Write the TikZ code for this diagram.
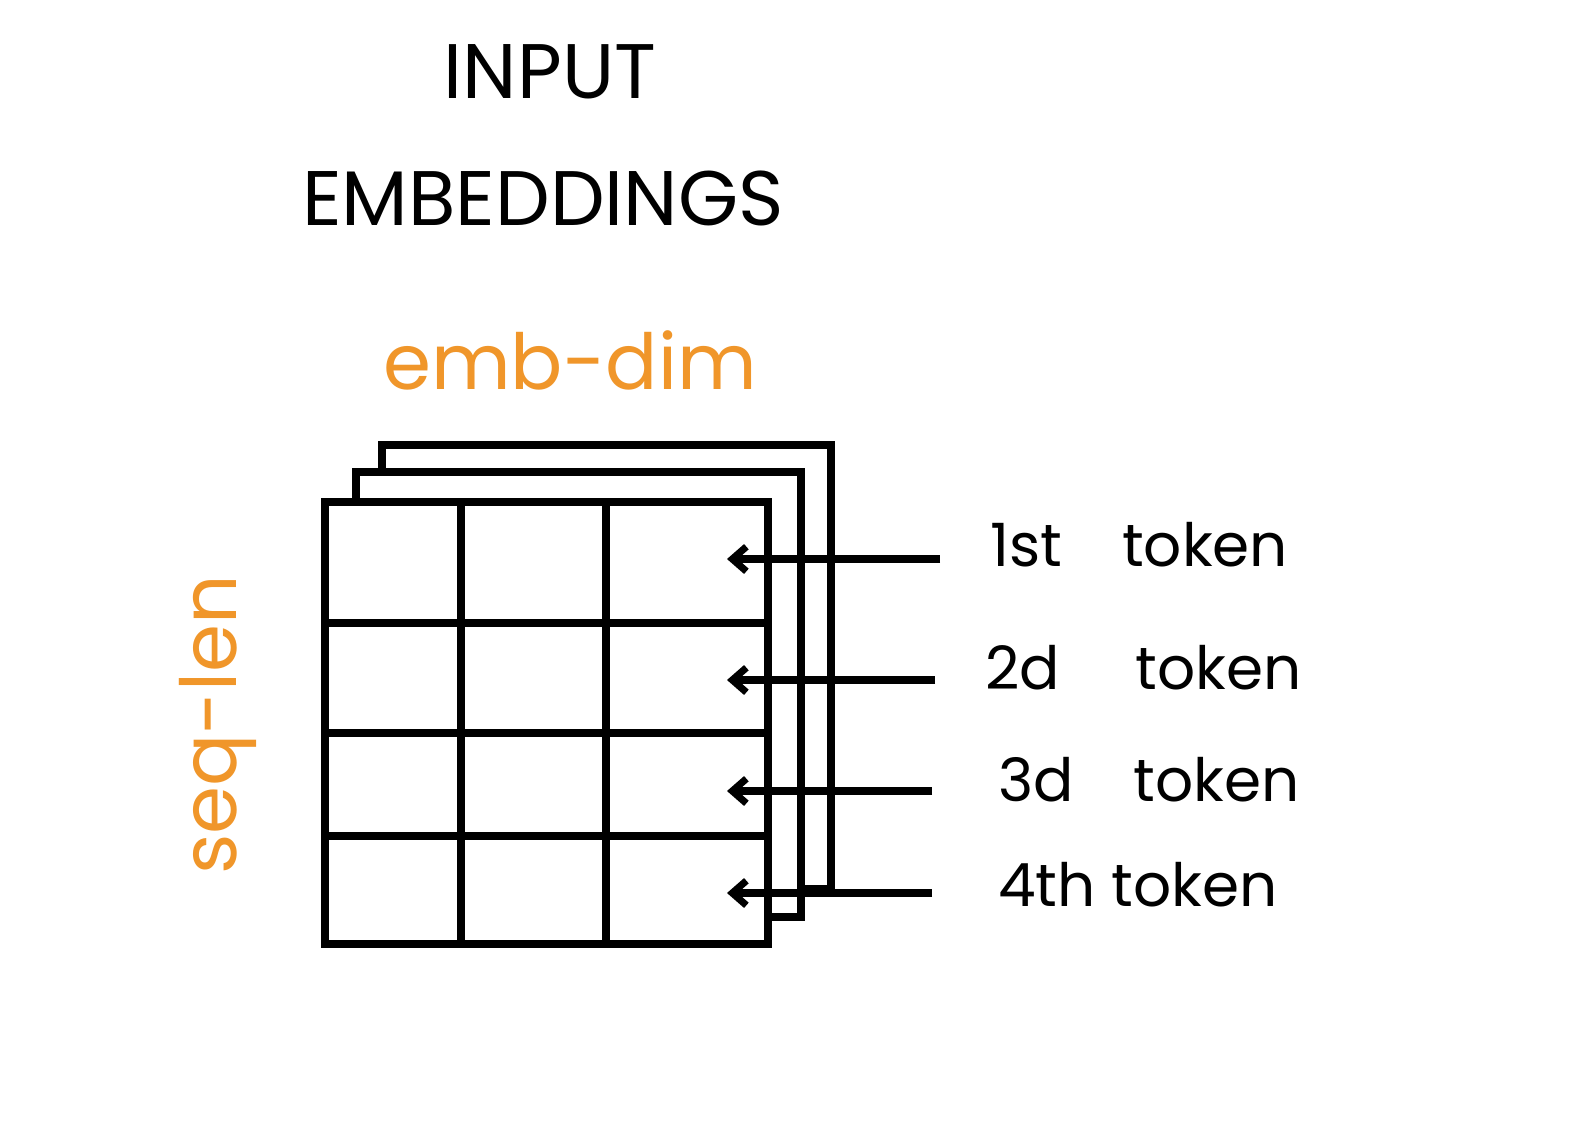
\documentclass[tikz,border=0pt]{standalone}
\usepackage{fontspec}
\setmainfont{Poppins}
\usetikzlibrary{arrows.meta}
\definecolor{org}{HTML}{F0962A}
\begin{document}
\begin{tikzpicture}[x=0.02cm,y=-0.02cm,
  sheet/.style={draw=black,line width=4pt,fill=white},
  gl/.style={line width=4pt},
  arr/.style={line width=4pt,-{Straight Barb[length=8pt,width=14pt]}},
  lbl/.style={font=\fontsize{34}{40}\selectfont,anchor=west,inner sep=0},
  ttl/.style={font=\fontsize{44}{50}\selectfont,inner sep=0}]
\useasboundingbox (0,0) rectangle (1593,1123);
\fill[white] (0,0) rectangle (1593,1123);
\node[ttl] (t1) at (550,72) {INPUT};
\node[ttl] (t2) at (543,198) {EMBEDDINGS};
\node[ttl,text=org] (ed) at (570,360) {emb-dim};
\node[ttl,text=org,rotate=90] (sl) at (218,725) {seq-len};
\draw[sheet] (382,445) rectangle (831,889);
\draw[sheet] (356,472) rectangle (801,917);
\draw[sheet] (325,502) rectangle (768,944);
\foreach \x in {461,606} \draw[gl] (\x,502) -- (\x,944);
\foreach \y in {623,733,836} \draw[gl] (325,\y) -- (768,\y);
\coordinate (e1) at (727,559); \coordinate (e2) at (727,680);
\coordinate (e3) at (727,791); \coordinate (e4) at (727,893);
\node[lbl] (l1) at (990,545) {1st\quad token};
\node[lbl] (l2) at (985,668) {2d\quad\ token};
\node[lbl] (l3) at (998,780) {3d\quad token};
\node[lbl] (l4) at (998,885) {4th token};
\draw[arr] (940,559) -- (e1);
\draw[arr] (935,680) -- (e2);
\draw[arr] (932,791) -- (e3);
\draw[arr] (932,893) -- (e4);
\end{tikzpicture}
\end{document}
